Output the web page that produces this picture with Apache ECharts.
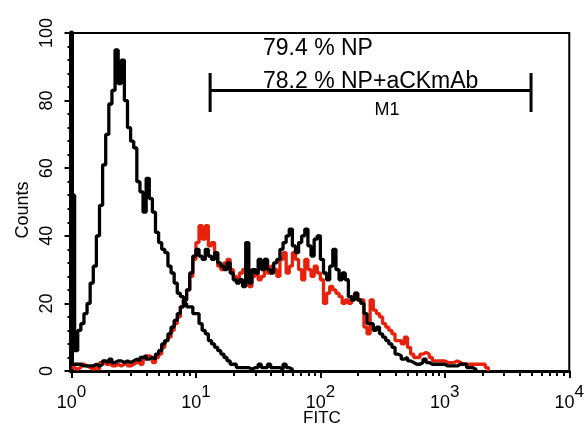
<!DOCTYPE html>
<html>
<head>
<meta charset="UTF-8">
<title>FITC histogram</title>
<style>
*{margin:0;padding:0;}
html,body{width:100%;height:100%;background:#fff;}
#chart{width:587px;height:427px;}
</style>
</head>
<body>
<div id="chart"></div>
<script src="https://cdn.jsdelivr.net/npm/echarts@6/dist/echarts.min.js"></script>
<script>
var FONT = '"Liberation Sans", Arial, Helvetica, sans-serif';
var DECADES = 4;
var CH_W = 0.025;     // width of one channel, in decades
var RED = '#e8210d';

// counts per channel
var controlCounts = [52,6,12,14,17,20,26,31,40,49,
	61,70,79,83,95,85,92,80,72,68,
	66,56,53,47,57,51,47,41,38,36,
	35,31,29,26,23,22,20,19,19,17,
	17,14,12,11,9,8,7,6,5,4,
	3,2,2,1,1,1,1,0.5,1,1,
	2,1,1,2,1,1,1,0.5,2,1,
	0.5,0];
var npCounts = [1,0.5,1,2,1.5,1,0.5,1,0.5,2.5,
	3,2,2.5,1.5,2,1.5,2,2.5,1.5,2,
	2.5,3,2,3.5,4.5,4,2.5,4,5,7,
	9,10,12,14,16,19,21,24,28,33,
	38,43,39,43,37,38,35,31,30,32,
	33,30,28,27,29,30,27,25,28,30,
	27,28,33,29,31,30,28,33,35,29,
	31,35,33,30,27,33,30,28,31,29,
	27,20,23,25,24,23,22,20,21,20,
	22,23,21,21,13,11,21,18,17,16,
	14,13,12,11,9,9,8,10,7,5,
	4,4,5,5.5,5,4,3,3,3,3,
	2.5,2.5,2.5,3,2.5,2,2,2,2,2,
	2,2,2,1,0];
var npAbCounts = [2,2,2,1.5,1.5,1.5,1.5,2,1.5,2,
	3,2.5,3.5,2.5,3,3,2.5,3,2.5,3,
	3.5,3,4,4.5,3.5,4,3.5,5,6,8,
	9,11,13,15,17,19,21,24,29,34,
	36,34,33,36,34,33,35,32,31,30,
	32,29,27,26,27,25,38,26,30,29,
	33,30,33,30,29,32,33,36,38,40,
	42,37,35,38,40,42,37,34,39,40,
	33,29,27,31,36,30,27,29,27,22,
	21,23,21,20,17,14,14,12,13,11,
	10,9,8,7,5,4.5,3.5,4,3,2.5,
	2,2,2.5,3.5,2.5,2,2,2,2,2,
	1.5,1.5,1.5,1.5,2,2,2,1,1,0.5,
	0];

// marker M1 (FITC range and height in counts)
var m1Range = [13, 4930];
var m1Level = 83;
var m1Cap = [76.6, 88.2];

var pctNP = '79.4 % NP';
var pctNPAb = '78.2 % NP+aCKmAb';

// channel i starts at i*CH_W decades
function chan(arr){
	return arr.map(function(v,i){ return [i*CH_W, v]; });
}
var minorTicks = [];
for(var d=0; d<DECADES; d++){
	for(var k=2; k<=9; k++) minorTicks.push(d + Math.log10(k));
}

function histo(name, arr, color){
	return {
		name: name, type: 'line', xAxisIndex: 1, step: 'end',
		symbol: 'none', silent: true, data: chan(arr),
		lineStyle: {color: color, width: 3.3}
	};
}
function seg(data){
	return {
		type: 'line', xAxisIndex: 0, symbol: 'none', silent: true, data: data,
		lineStyle: {color: '#000', width: 3}
	};
}

var chart = echarts.init(document.getElementById('chart'));
chart.setOption({
	animation: false,
	backgroundColor: '#fff',
	grid: {left: 71.5, right: 12.5, top: 33, bottom: 56, show: true, borderColor: '#000', borderWidth: 2},
	xAxis: [{
		type: 'log', logBase: 10, min: 1, max: 10000, position: 'bottom',
		axisLine: {lineStyle: {color: '#000', width: 3}},
		axisTick: {show: true, length: 7, lineStyle: {color: '#000', width: 2}},
		splitLine: {show: false},
		axisLabel: {
			margin: 13,
			formatter: function(v){ return '{b|10}{s|' + Math.round(Math.log10(v)) + '}'; },
			rich: {
				b: {fontFamily: FONT, fontSize: 18, color: '#000', lineHeight: 28, verticalAlign: 'bottom'},
				s: {fontFamily: FONT, fontSize: 17, color: '#000', lineHeight: 8, verticalAlign: 'top'}
			}
		}
	}, {
		type: 'value', min: 0, max: DECADES, position: 'bottom',
		axisLine: {show: false},
		axisLabel: {show: false},
		splitLine: {show: false},
		axisTick: {show: true, customValues: minorTicks, length: 5, lineStyle: {color: '#000', width: 2}}
	}],
	yAxis: {
		type: 'value', min: 0, max: 100, interval: 20,
		axisLine: {show: true, lineStyle: {color: '#000', width: 5}},
		axisTick: {show: true, length: 7, lineStyle: {color: '#000', width: 2}},
		minorTick: {show: true, splitNumber: 5, length: 4, lineStyle: {color: '#000', width: 2}},
		splitLine: {show: false},
		axisLabel: {rotate: 90, margin: 15, fontFamily: FONT, fontSize: 18, color: '#000'}
	},
	series: [
		histo('NP', npCounts, RED),
		histo('control', controlCounts, '#000'),
		histo('NP+aCKmAb', npAbCounts, '#000'),
		seg([[m1Range[0], m1Level], [m1Range[1], m1Level]]),
		seg([[m1Range[0], m1Cap[0]], [m1Range[0], m1Cap[1]]]),
		seg([[m1Range[1], m1Cap[0]], [m1Range[1], m1Cap[1]]])
	],
	graphic: [
		{type: 'text', left: 263, top: 37, style: {text: pctNP, font: '23px ' + FONT, fill: '#000'}},
		{type: 'text', left: 263, top: 70, style: {text: pctNPAb, font: '23px ' + FONT, fill: '#000'}},
		{type: 'text', x: 387, y: 110, style: {text: 'M1', font: '18px ' + FONT, fill: '#000', align: 'center', verticalAlign: 'middle'}},
		{type: 'text', x: 23.5, y: 210, rotation: Math.PI/2, style: {text: 'Counts', font: '18px ' + FONT, fill: '#000', align: 'center', verticalAlign: 'middle'}},
		{type: 'text', x: 322, y: 418, style: {text: 'FITC', font: '17px ' + FONT, fill: '#000', align: 'center', verticalAlign: 'middle'}}
	]
});
</script>
</body>
</html>
